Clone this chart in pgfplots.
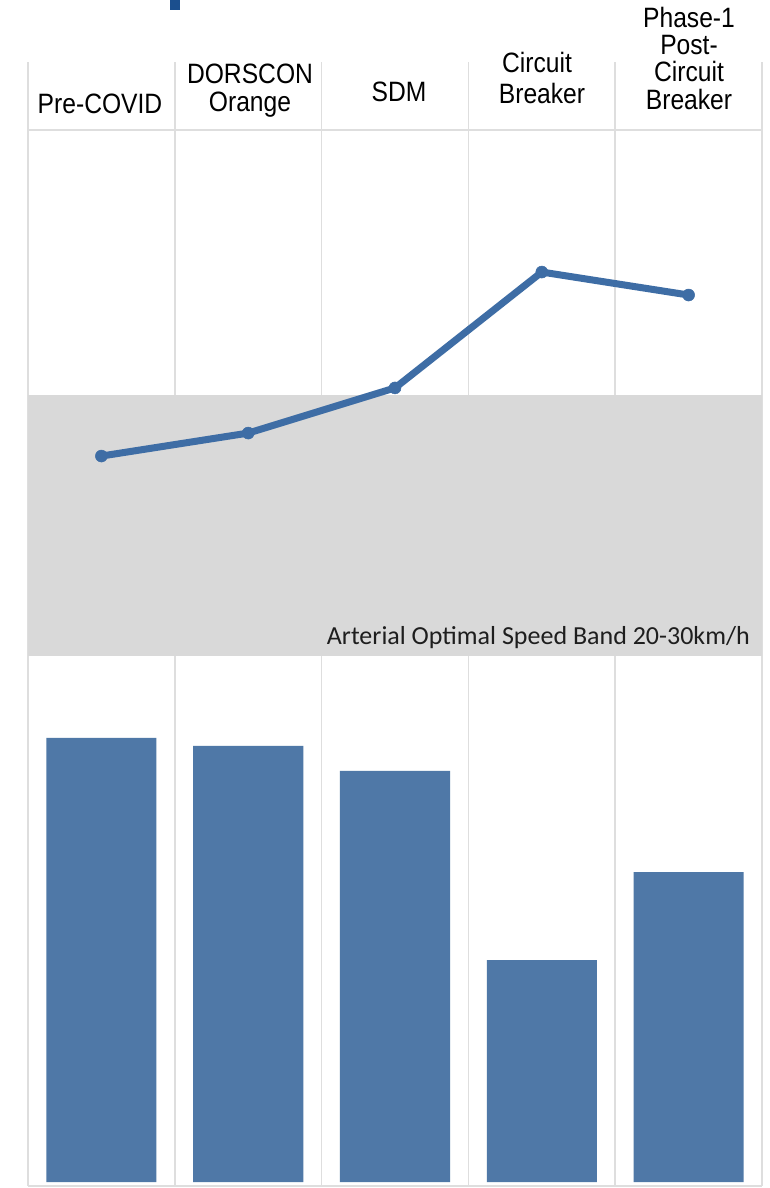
\documentclass[border=0pt]{standalone}
\usepackage{pgfplots}
\pgfplotsset{compat=1.18}
\usepackage{fontspec}
\setmainfont{Liberation Sans}
\newfontfamily\calib{Carlito}
\definecolor{barblue}{HTML}{4F78A7}
\definecolor{lineblue}{HTML}{3E6DA5}
\definecolor{bandgray}{HTML}{D9D9D9}
\definecolor{gridgray}{HTML}{DEDEDE}
\definecolor{topblue}{HTML}{1B4F8E}
\definecolor{labeltext}{HTML}{1E1E1E}
\begin{document}
\begin{tikzpicture}[x=1pt,y=1pt]
\useasboundingbox (0,0) rectangle (769,1188);
\fill[white] (0,0) rectangle (769,1188);
% bar axis (with grid)
\begin{axis}[
  at={(28pt,2pt)}, anchor=south west,
  scale only axis, width=734pt, height=1124pt,
  xmin=-0.5, xmax=4.5, ymin=-0.9, ymax=252.25,
  axis line style={draw=none}, tick style={draw=none},
  xtick={-0.5,0.5,1.5,2.5,3.5,4.5}, xticklabels={},
  ytick={-0.9,236.9}, yticklabels={},
  xmajorgrids, ymajorgrids,
  grid style={color=gridgray, line width=1.6pt},
]
\addplot[ybar, bar width=0.75, fill=barblue, draw=none] coordinates {
  (0,100) (1,98.2) (2,92.6) (3,50.0) (4,69.8)
};
\end{axis}
% speed axis (band + line)
\begin{axis}[
  at={(28pt,2pt)}, anchor=south west,
  scale only axis, width=734pt, height=1124pt,
  xmin=-0.5, xmax=4.5, ymin=-0.31, ymax=42.76,
  hide axis, clip=false,
]
\fill[bandgray] (axis cs:-0.5,20) rectangle (axis cs:4.5,30);
\addplot[lineblue, line width=7pt, mark=*, mark size=6pt, mark options={fill=lineblue, draw=lineblue, line width=0.5pt}] coordinates {
  (0,27.66) (1,28.54) (2,30.27) (3,34.71) (4,33.83)
};
\end{axis}
% band label
\node[anchor=base east, font=\calib\fontsize{26}{28}\selectfont, text=labeltext, inner sep=0pt] at (750,543) {Arterial Optimal Speed Band 20-30km/h};
% header labels
\begin{scope}[every node/.style={anchor=base, inner sep=0pt, xscale=0.88, font=\fontsize{28}{30}\selectfont}]
\node at (100,1074) {Pre-COVID};
\node at (250,1104) {DORSCON};
\node at (250,1076) {Orange};
\node at (399,1086) {SDM};
\node at (537,1115) {Circuit};
\node at (542,1084) {Breaker};
\node at (689,1160) {Phase-1};
\node at (689,1133) {Post-};
\node at (689,1106) {Circuit};
\node at (689,1078) {Breaker};
\end{scope}
\fill[topblue] (170,1178) rectangle (180,1188);
\end{tikzpicture}
\end{document}
